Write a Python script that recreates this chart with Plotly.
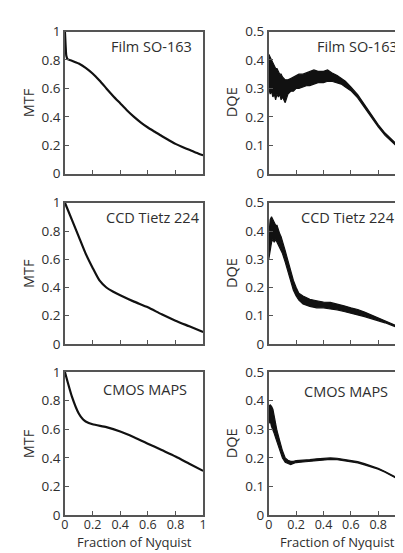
import plotly.graph_objects as go

W, H = 403, 553

# ---------------- data ----------------
film_mtf_x = [0, 0.005, 0.01, 0.02, 0.05, 0.1, 0.15, 0.2, 0.25, 0.3, 0.35, 0.4, 0.45, 0.5, 0.55, 0.6, 0.65, 0.7, 0.75, 0.8, 0.85, 0.9, 0.95, 1.0]
film_mtf_y = [1.0, 0.9, 0.83, 0.805, 0.795, 0.775, 0.745, 0.705, 0.655, 0.6, 0.545, 0.495, 0.445, 0.4, 0.36, 0.325, 0.295, 0.265, 0.237, 0.21, 0.188, 0.168, 0.148, 0.13]

ccd_mtf_x = [0, 0.05, 0.1, 0.15, 0.2, 0.25, 0.3, 0.35, 0.4, 0.5, 0.6, 0.7, 0.8, 0.9, 1.0]
ccd_mtf_y = [1.0, 0.88, 0.76, 0.64, 0.54, 0.45, 0.40, 0.37, 0.345, 0.30, 0.26, 0.21, 0.165, 0.125, 0.085]

cmos_mtf_x = [0, 0.05, 0.1, 0.13, 0.15, 0.2, 0.3, 0.4, 0.5, 0.6, 0.7, 0.8, 0.9, 1.0]
cmos_mtf_y = [1.0, 0.83, 0.71, 0.67, 0.655, 0.635, 0.615, 0.585, 0.545, 0.50, 0.455, 0.41, 0.36, 0.31]

film_dqe_x = [0, 0.01, 0.02, 0.03, 0.04, 0.05, 0.06, 0.07, 0.08, 0.09, 0.10, 0.12, 0.14, 0.16, 0.18, 0.20, 0.22, 0.25, 0.28, 0.30, 0.33, 0.36, 0.40, 0.43, 0.46, 0.50, 0.53, 0.56, 0.60, 0.65, 0.70, 0.75, 0.80, 0.85, 0.90, 0.95, 1.00]
film_dqe_hi = [0.42, 0.41, 0.40, 0.39, 0.38, 0.37, 0.37, 0.36, 0.35, 0.35, 0.34, 0.33, 0.33, 0.335, 0.34, 0.345, 0.35, 0.35, 0.355, 0.36, 0.365, 0.36, 0.36, 0.365, 0.355, 0.345, 0.335, 0.325, 0.305, 0.278, 0.243, 0.207, 0.173, 0.143, 0.12, 0.097, 0.078]
film_dqe_lo = [0.30, 0.28, 0.29, 0.27, 0.28, 0.26, 0.28, 0.27, 0.28, 0.26, 0.27, 0.25, 0.28, 0.29, 0.29, 0.30, 0.30, 0.305, 0.31, 0.31, 0.315, 0.32, 0.32, 0.325, 0.325, 0.32, 0.315, 0.305, 0.292, 0.267, 0.233, 0.198, 0.165, 0.135, 0.112, 0.09, 0.07]

ccd_dqe_x = [0, 0.01, 0.02, 0.03, 0.04, 0.05, 0.06, 0.07, 0.08, 0.09, 0.10, 0.12, 0.14, 0.16, 0.18, 0.20, 0.22, 0.25, 0.28, 0.30, 0.35, 0.40, 0.45, 0.50, 0.55, 0.60, 0.65, 0.70, 0.75, 0.80, 0.85, 0.90, 0.95, 1.00]
ccd_dqe_hi = [0.38, 0.44, 0.45, 0.44, 0.43, 0.42, 0.42, 0.40, 0.39, 0.38, 0.365, 0.33, 0.295, 0.255, 0.225, 0.20, 0.18, 0.17, 0.163, 0.158, 0.153, 0.148, 0.147, 0.142, 0.135, 0.128, 0.122, 0.113, 0.103, 0.093, 0.083, 0.073, 0.062, 0.051]
ccd_dqe_lo = [0.30, 0.34, 0.36, 0.37, 0.36, 0.37, 0.36, 0.35, 0.345, 0.33, 0.32, 0.29, 0.255, 0.22, 0.19, 0.17, 0.155, 0.142, 0.137, 0.133, 0.128, 0.128, 0.124, 0.121, 0.115, 0.11, 0.103, 0.097, 0.09, 0.083, 0.075, 0.066, 0.057, 0.047]

cmos_dqe_x = [0, 0.01, 0.02, 0.03, 0.04, 0.05, 0.06, 0.08, 0.10, 0.12, 0.14, 0.16, 0.18, 0.20, 0.25, 0.30, 0.35, 0.40, 0.45, 0.50, 0.55, 0.60, 0.65, 0.70, 0.75, 0.80, 0.85, 0.90, 0.95, 1.00]
cmos_dqe_hi = [0.38, 0.385, 0.38, 0.37, 0.345, 0.32, 0.295, 0.26, 0.225, 0.20, 0.192, 0.188, 0.188, 0.191, 0.192, 0.194, 0.197, 0.199, 0.2, 0.199, 0.195, 0.192, 0.187, 0.18, 0.173, 0.164, 0.153, 0.141, 0.128, 0.115]
cmos_dqe_lo = [0.32, 0.33, 0.31, 0.30, 0.285, 0.27, 0.255, 0.225, 0.20, 0.185, 0.18, 0.177, 0.181, 0.184, 0.186, 0.188, 0.191, 0.194, 0.195, 0.194, 0.191, 0.188, 0.183, 0.176, 0.169, 0.161, 0.15, 0.138, 0.125, 0.112]

panel_names = ["Film SO-163", "CCD Tietz 224", "CMOS MAPS"]
x_ticks = [0, 0.2, 0.4, 0.6, 0.8, 1]
x_ticktext = ["0", "0.2", "0.4", "0.6", "0.8", "1"]
mtf_ticks = [0, 0.2, 0.4, 0.6, 0.8, 1]
mtf_ticktext = ["0", "0.2", "0.4", "0.6", "0.8", "1"]
dqe_ticks = [0, 0.1, 0.2, 0.3, 0.4, 0.5]
dqe_ticktext = ["0", "0.1", "0.2", "0.3", "0.4", "0.5"]

# ---------------- layout geometry (pixels) ----------------
col_px = [(54, 195), (262, 401.5)]
row_px = [(15, 162), (192, 338), (367, 515)]

FONT = "Open Sans"
TXT = "#2e2e2e"
LINE = "#111111"
FRAME = "#555555"
XTICK_SIZE = 12.5
YTICK_SIZE = 13.5
LABEL_SIZE = 14.5
XTITLE_SIZE = 13

fig = go.Figure()

mtf_data = [(film_mtf_x, film_mtf_y), (ccd_mtf_x, ccd_mtf_y), (cmos_mtf_x, cmos_mtf_y)]
dqe_data = [(film_dqe_x, film_dqe_lo, film_dqe_hi), (ccd_dqe_x, ccd_dqe_lo, ccd_dqe_hi), (cmos_dqe_x, cmos_dqe_lo, cmos_dqe_hi)]

layout = {}
annotations = []
ax = 0
for r in range(3):
    for c in range(2):
        ax += 1
        xname = "x" if ax == 1 else f"x{ax}"
        yname = "y" if ax == 1 else f"y{ax}"
        x0, x1 = col_px[c]
        yt, yb = row_px[r]
        bottom = (r == 2)
        layout["xaxis" if ax == 1 else f"xaxis{ax}"] = dict(
            domain=[x0 / W, x1 / W], range=[0, 1], anchor=yname,
            showline=True, mirror=True, linecolor=FRAME, linewidth=1.5,
            ticks="inside", ticklen=4, tickcolor=FRAME, tickwidth=1.2,
            tickvals=x_ticks, ticktext=x_ticktext, showticklabels=bottom,
            ticklabelstandoff=-3,
            showgrid=False, zeroline=False, fixedrange=True,
            tickfont=dict(family=FONT, size=XTICK_SIZE, color=TXT),
        )
        if c == 0:
            tv, tt, rng = mtf_ticks, mtf_ticktext, [0, 1]
        else:
            tv, tt, rng = dqe_ticks, dqe_ticktext, [0, 0.5]
        layout["yaxis" if ax == 1 else f"yaxis{ax}"] = dict(
            domain=[1 - yb / H, 1 - yt / H], range=rng, anchor=xname,
            showline=True, mirror=True, linecolor=FRAME, linewidth=1.5,
            ticks="inside", ticklen=4, tickcolor=FRAME, tickwidth=1.2,
            tickvals=tv, ticktext=tt, showgrid=False, zeroline=False, fixedrange=True,
            tickfont=dict(family=FONT, size=YTICK_SIZE, color=TXT),
        )
        if c == 0:
            xs, ys = mtf_data[r]
            fig.add_trace(go.Scatter(x=xs, y=ys, mode="lines", xaxis=xname, yaxis=yname,
                                     line=dict(color=LINE, width=2.2, shape="spline", smoothing=0.6),
                                     showlegend=False, hoverinfo="skip"))
        else:
            xs, lo, hi = dqe_data[r]
            fig.add_trace(go.Scatter(x=xs, y=lo, mode="lines", xaxis=xname, yaxis=yname,
                                     line=dict(color=LINE, width=1.2),
                                     showlegend=False, hoverinfo="skip"))
            fig.add_trace(go.Scatter(x=xs, y=hi, mode="lines", xaxis=xname, yaxis=yname,
                                     line=dict(color=LINE, width=1.2), fill="tonexty",
                                     fillcolor=LINE, showlegend=False, hoverinfo="skip"))

# panel labels: right edge and vertical centre in pixels
label_pos = [[(186, 31), (396, 31)], [(194, 207), (393, 207)], [(181, 385), (386, 387)]]
for r in range(3):
    for c in range(2):
        px, py = label_pos[r][c]
        annotations.append(dict(text=panel_names[r], x=px / W, y=1 - py / H, xref="paper", yref="paper",
                                showarrow=False, xanchor="right", yanchor="middle",
                                font=dict(family=FONT, size=LABEL_SIZE, color=TXT)))

# y-axis titles
for r in range(3):
    yt, yb = row_px[r]
    yc = 1 - (yt + yb) / 2 / H
    annotations.append(dict(text="MTF", x=17 / W, y=yc, xref="paper", yref="paper", showarrow=False,
                            textangle=-90, xanchor="center", yanchor="middle",
                            font=dict(family=FONT, size=LABEL_SIZE, color=TXT)))
    annotations.append(dict(text="DQE", x=224 / W, y=yc, xref="paper", yref="paper", showarrow=False,
                            textangle=-90, xanchor="center", yanchor="middle",
                            font=dict(family=FONT, size=LABEL_SIZE, color=TXT)))

# x-axis titles
for c in range(2):
    x0, x1 = col_px[c]
    annotations.append(dict(text="Fraction of Nyquist", x=(x0 + x1) / 2 / W, y=0,
                            xref="paper", yref="paper", showarrow=False, xanchor="center", yanchor="bottom",
                            yshift=-1,
                            font=dict(family=FONT, size=XTITLE_SIZE, color=TXT)))

fig.update_layout(width=W, height=H, margin=dict(l=0, r=0, t=0, b=0),
                  paper_bgcolor="white", plot_bgcolor="white",
                  annotations=annotations, **layout)

fig.write_html("out.html", config={"displayModeBar": False})
